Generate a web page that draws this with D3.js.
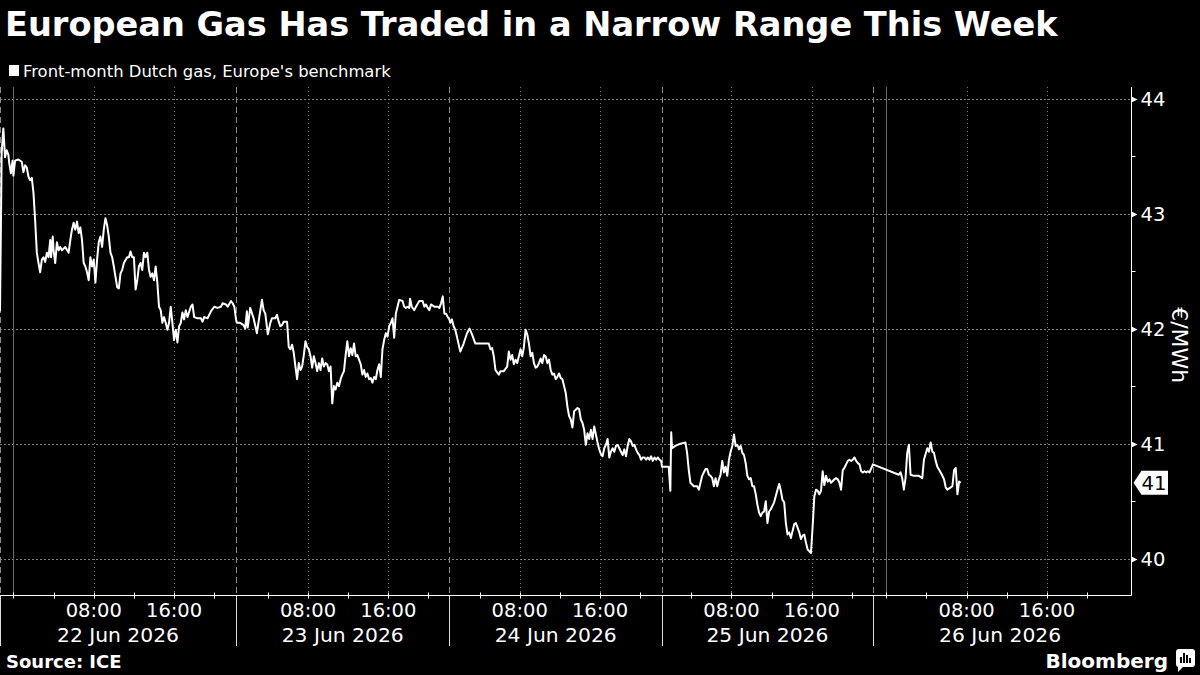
<!DOCTYPE html>
<html>
<head>
<meta charset="utf-8">
<script src="https://cdn.jsdelivr.net/npm/d3@7"></script>
<style>
  body { margin: 0; background: #000; }
  svg { display: block; font-family: 'DejaVu Sans', sans-serif; }
</style>
</head>
<body>
<svg id="chart" width="1200" height="675"></svg>
<script>
const title = 'European Gas Has Traded in a Narrow Range This Week'
const seriesName = "Front-month Dutch gas, Europe's benchmark"
const unit = '€/MWh'
const source = 'Source: ICE'
const yTicks = [40, 41, 42, 43, 44]
const yMinor = [40.5, 41.5, 42.5, 43.5]
const yDomain = [39.68, 44.1]
const dayLabels = ['22 Jun 2026', '23 Jun 2026', '24 Jun 2026', '25 Jun 2026', '26 Jun 2026']
// trading sessions (day-date hh:mm, June 2026); gaps between them are collapsed on the axis
const sessions = [
  ['21 22:40', '22 22:10'],
  ['23 00:50', '23 22:05'],
  ['24 01:00', '24 22:10'],
  ['25 01:05', '25 22:05'],
  ['25 22:40', '27 00:00']
]
const axisEnd = '27 00:25'

const prices = [
  ['21 22:40', 42.15], ['21 22:50', 43.53], ['21 23:00', 43.74], ['21 23:10', 43.49], ['21 23:20', 43.55],
  ['21 23:30', 43.51], ['21 23:35', 43.44], ['21 23:45', 43.35], ['21 23:55', 43.46], ['22 00:00', 43.33],
  ['22 00:10', 43.46], ['22 00:30', 43.47], ['22 00:50', 43.45], ['22 01:00', 43.36], ['22 01:10', 43.42],
  ['22 01:20', 43.40], ['22 01:30', 43.32], ['22 01:40', 43.29], ['22 01:50', 43.31], ['22 02:00', 43.18],
  ['22 02:10', 42.94], ['22 02:20', 42.66], ['22 02:30', 42.57], ['22 02:40', 42.49], ['22 02:50', 42.60],
  ['22 03:00', 42.62], ['22 03:10', 42.58], ['22 03:20', 42.66], ['22 03:30', 42.62], ['22 03:40', 42.77],
  ['22 03:45', 42.62], ['22 03:55', 42.80], ['22 04:00', 42.68], ['22 04:10', 42.57], ['22 04:20', 42.75],
  ['22 04:30', 42.68], ['22 04:40', 42.71], ['22 04:50', 42.68], ['22 05:10', 42.71], ['22 05:30', 42.66],
  ['22 05:40', 42.77], ['22 05:50', 42.86], ['22 06:00', 42.92], ['22 06:10', 42.86], ['22 06:20', 42.93],
  ['22 06:30', 42.83], ['22 06:40', 42.88], ['22 06:50', 42.77], ['22 07:00', 42.57], ['22 07:10', 42.54],
  ['22 07:20', 42.49], ['22 07:30', 42.42], ['22 07:40', 42.62], ['22 07:50', 42.54], ['22 08:00', 42.60],
  ['22 08:10', 42.40], ['22 08:20', 42.60], ['22 08:30', 42.75], ['22 08:40', 42.80], ['22 08:50', 42.71],
  ['22 09:00', 42.86], ['22 09:10', 42.96], ['22 09:20', 42.90], ['22 09:30', 42.80], ['22 09:40', 42.66],
  ['22 09:50', 42.62], ['22 10:00', 42.54], ['22 10:10', 42.45], ['22 10:20', 42.36], ['22 10:30', 42.35],
  ['22 10:40', 42.48], ['22 10:50', 42.51], ['22 11:00', 42.57], ['22 11:20', 42.62], ['22 11:30', 42.62],
  ['22 11:40', 42.67], ['22 11:50', 42.62], ['22 12:00', 42.62], ['22 12:10', 42.34], ['22 12:20', 42.42],
  ['22 12:30', 42.54], ['22 12:40', 42.57], ['22 12:50', 42.51], ['22 13:00', 42.66], ['22 13:10', 42.62],
  ['22 13:20', 42.66], ['22 13:30', 42.51], ['22 13:40', 42.45], ['22 13:50', 42.48], ['22 14:00', 42.42],
  ['22 14:10', 42.54], ['22 14:20', 42.40], ['22 14:30', 42.19], ['22 14:40', 42.16], ['22 14:50', 42.05],
  ['22 15:00', 42.10], ['22 15:10', 42.05], ['22 15:20', 41.99], ['22 15:30', 42.05], ['22 15:40', 42.19],
  ['22 15:50', 42.05], ['22 16:00', 41.90], ['22 16:10', 41.99], ['22 16:20', 41.88], ['22 16:30', 42.02],
  ['22 16:40', 42.05], ['22 16:50', 42.14], ['22 17:00', 42.08], ['22 17:10', 42.16], ['22 17:20', 42.10],
  ['22 17:40', 42.19], ['22 17:50', 42.21], ['22 18:00', 42.10], ['22 18:20', 42.09], ['22 18:40', 42.09],
  ['22 18:50', 42.06], ['22 19:00', 42.10], ['22 19:20', 42.09], ['22 19:40', 42.15], ['22 20:00', 42.19],
  ['22 20:20', 42.18], ['22 20:40', 42.19], ['22 20:50', 42.22], ['22 21:10', 42.21], ['22 21:20', 42.19],
  ['22 21:40', 42.24], ['22 21:50', 42.22], ['22 22:00', 42.19], ['22 22:10', 42.08],
  ['23 00:55', 42.05], ['23 01:15', 42.05], ['23 01:35', 42.03], ['23 01:45', 42.00], ['23 01:55', 42.15],
  ['23 02:00', 42.01], ['23 02:15', 42.18], ['23 02:35', 42.09], ['23 02:55', 41.96], ['23 03:05', 42.06],
  ['23 03:25', 42.25], ['23 03:35', 42.16], ['23 03:45', 42.13], ['23 04:00', 41.95], ['23 04:15', 42.05],
  ['23 04:25', 42.09], ['23 04:45', 42.09], ['23 04:55', 42.12], ['23 05:05', 42.06], ['23 05:15', 42.02],
  ['23 05:25', 42.03], ['23 05:35', 42.06], ['23 05:55', 42.06], ['23 06:05', 41.84], ['23 06:15', 41.82],
  ['23 06:25', 41.86], ['23 06:35', 41.79], ['23 06:45', 41.67], ['23 06:55', 41.56], ['23 07:05', 41.70],
  ['23 07:15', 41.64], ['23 07:25', 41.67], ['23 07:35', 41.77], ['23 07:45', 41.89], ['23 07:55', 41.84],
  ['23 08:05', 41.82], ['23 08:15', 41.76], ['23 08:25', 41.66], ['23 08:35', 41.76], ['23 08:45', 41.70],
  ['23 08:55', 41.63], ['23 09:05', 41.70], ['23 09:15', 41.64], ['23 09:25', 41.74], ['23 09:35', 41.67],
  ['23 09:45', 41.70], ['23 09:55', 41.69], ['23 10:05', 41.63], ['23 10:15', 41.67], ['23 10:25', 41.35],
  ['23 10:35', 41.50], ['23 10:45', 41.47], ['23 10:55', 41.53], ['23 11:05', 41.50], ['23 11:15', 41.56],
  ['23 11:25', 41.60], ['23 11:35', 41.63], ['23 11:45', 41.77], ['23 11:55', 41.89], ['23 12:05', 41.76],
  ['23 12:15', 41.83], ['23 12:25', 41.77], ['23 12:35', 41.87], ['23 12:45', 41.76], ['23 12:55', 41.77],
  ['23 13:05', 41.73], ['23 13:15', 41.69], ['23 13:25', 41.60], ['23 13:35', 41.64], ['23 13:45', 41.58],
  ['23 13:55', 41.61], ['23 14:05', 41.56], ['23 14:15', 41.57], ['23 14:25', 41.53], ['23 14:35', 41.58],
  ['23 14:45', 41.56], ['23 14:55', 41.64], ['23 15:05', 41.69], ['23 15:15', 41.58], ['23 15:25', 41.82],
  ['23 15:35', 41.90], ['23 15:45', 41.96], ['23 15:55', 41.93], ['23 16:05', 42.02], ['23 16:15', 42.05],
  ['23 16:25', 42.09], ['23 16:35', 41.92], ['23 16:45', 42.13], ['23 16:55', 42.19], ['23 17:05', 42.25],
  ['23 17:25', 42.24], ['23 17:35', 42.19], ['23 17:45', 42.18], ['23 17:55', 42.19], ['23 18:05', 42.18],
  ['23 18:10', 42.26], ['23 18:20', 42.19], ['23 18:35', 42.16], ['23 18:45', 42.19], ['23 19:05', 42.24],
  ['23 19:25', 42.24], ['23 19:35', 42.19], ['23 19:45', 42.21], ['23 19:55', 42.18], ['23 20:05', 42.16],
  ['23 20:15', 42.21], ['23 20:35', 42.19], ['23 20:55', 42.19], ['23 21:05', 42.18], ['23 21:15', 42.22],
  ['23 21:25', 42.28], ['23 21:35', 42.13], ['23 21:45', 42.13], ['23 21:55', 42.10], ['23 22:05', 42.08],
  ['24 01:05', 42.05], ['24 01:15', 42.08], ['24 01:25', 42.02], ['24 01:35', 41.99], ['24 01:45', 41.93],
  ['24 02:05', 41.80], ['24 02:25', 41.87], ['24 02:45', 41.96], ['24 03:00', 42.00], ['24 03:15', 41.95],
  ['24 03:35', 41.87], ['24 04:05', 41.87], ['24 04:35', 41.87], ['24 04:55', 41.87], ['24 05:05', 41.82],
  ['24 05:15', 41.83], ['24 05:25', 41.76], ['24 05:35', 41.64], ['24 05:55', 41.60], ['24 06:05', 41.63],
  ['24 06:25', 41.63], ['24 06:45', 41.67], ['24 06:55', 41.80], ['24 07:05', 41.73], ['24 07:15', 41.77],
  ['24 07:25', 41.69], ['24 07:35', 41.73], ['24 07:45', 41.70], ['24 07:55', 41.76], ['24 08:05', 41.82],
  ['24 08:15', 41.76], ['24 08:25', 41.84], ['24 08:35', 41.99], ['24 08:45', 41.95], ['24 08:55', 41.87],
  ['24 09:05', 41.76], ['24 09:15', 41.79], ['24 09:25', 41.70], ['24 09:35', 41.66], ['24 09:45', 41.67],
  ['24 09:55', 41.70], ['24 10:05', 41.74], ['24 10:15', 41.70], ['24 10:25', 41.77], ['24 10:35', 41.76],
  ['24 10:45', 41.70], ['24 10:55', 41.73], ['24 11:05', 41.64], ['24 11:15', 41.60], ['24 11:25', 41.61],
  ['24 11:35', 41.56], ['24 11:45', 41.58], ['24 11:55', 41.61], ['24 12:05', 41.57], ['24 12:15', 41.56],
  ['24 12:25', 41.50], ['24 12:35', 41.44], ['24 12:45', 41.32], ['24 12:55', 41.24], ['24 13:05', 41.21],
  ['24 13:15', 41.14], ['24 13:25', 41.28], ['24 13:45', 41.31], ['24 13:55', 41.30], ['24 14:05', 41.21],
  ['24 14:15', 41.18], ['24 14:25', 41.12], ['24 14:35', 40.99], ['24 14:45', 41.09], ['24 14:55', 41.04],
  ['24 15:05', 41.12], ['24 15:15', 41.04], ['24 15:25', 41.15], ['24 15:35', 41.08], ['24 15:45', 41.01],
  ['24 15:55', 40.95], ['24 16:05', 40.91], ['24 16:15', 40.89], ['24 16:25', 40.96], ['24 16:35', 40.99],
  ['24 16:45', 41.04], ['24 16:55', 40.88], ['24 17:05', 40.93], ['24 17:15', 40.96], ['24 17:25', 40.93],
  ['24 17:35', 40.98], ['24 17:45', 40.99], ['24 17:55', 40.96], ['24 18:05', 40.93], ['24 18:15', 40.90],
  ['24 18:25', 40.95], ['24 18:35', 40.89], ['24 18:45', 40.98], ['24 18:55', 41.04], ['24 19:05', 41.02],
  ['24 19:15', 40.98], ['24 19:25', 40.99], ['24 19:35', 40.95], ['24 19:45', 40.92], ['24 19:55', 40.90],
  ['24 20:05', 40.86], ['24 20:15', 40.88], ['24 20:25', 40.88], ['24 20:35', 40.86], ['24 20:45', 40.88],
  ['24 20:55', 40.86], ['24 21:05', 40.89], ['24 21:15', 40.85], ['24 21:25', 40.88], ['24 21:35', 40.86],
  ['24 21:45', 40.88], ['24 21:55', 40.86], ['24 22:05', 40.85],
  ['25 01:05', 40.80], ['25 01:45', 40.80], ['25 01:55', 40.59], ['25 02:00', 41.10], ['25 02:05', 40.96],
  ['25 02:25', 40.98], ['25 02:55', 41.00], ['25 03:25', 41.01], ['25 03:35', 40.92], ['25 03:45', 40.77],
  ['25 03:55', 40.66], ['25 04:15', 40.63], ['25 04:35', 40.63], ['25 04:45', 40.60], ['25 04:55', 40.66],
  ['25 05:05', 40.72], ['25 05:25', 40.78], ['25 05:35', 40.78], ['25 05:45', 40.73], ['25 05:55', 40.72],
  ['25 06:05', 40.70], ['25 06:15', 40.63], ['25 06:25', 40.70], ['25 06:35', 40.63], ['25 06:45', 40.69],
  ['25 06:55', 40.73], ['25 07:05', 40.85], ['25 07:15', 40.75], ['25 07:25', 40.80], ['25 07:35', 40.72],
  ['25 07:45', 40.86], ['25 07:55', 40.93], ['25 08:05', 40.98], ['25 08:15', 41.08], ['25 08:25', 40.98],
  ['25 08:35', 40.99], ['25 08:45', 40.95], ['25 08:55', 40.98], ['25 09:05', 40.92], ['25 09:15', 40.90],
  ['25 09:25', 40.83], ['25 09:35', 40.72], ['25 09:45', 40.69], ['25 09:55', 40.70], ['25 10:05', 40.63],
  ['25 10:15', 40.63], ['25 10:25', 40.56], ['25 10:35', 40.47], ['25 10:45', 40.40], ['25 10:55', 40.37],
  ['25 11:05', 40.40], ['25 11:15', 40.41], ['25 11:25', 40.50], ['25 11:35', 40.31], ['25 11:45', 40.41],
  ['25 11:55', 40.43], ['25 12:15', 40.49], ['25 12:35', 40.60], ['25 12:45', 40.65], ['25 12:55', 40.59],
  ['25 13:05', 40.51], ['25 13:15', 40.49], ['25 13:25', 40.31], ['25 13:35', 40.21], ['25 13:45', 40.23],
  ['25 13:55', 40.18], ['25 14:05', 40.24], ['25 14:15', 40.30], ['25 14:25', 40.31], ['25 14:35', 40.27],
  ['25 14:45', 40.23], ['25 14:55', 40.17], ['25 15:05', 40.20], ['25 15:15', 40.21], ['25 15:25', 40.14],
  ['25 15:35', 40.08], ['25 15:55', 40.05], ['25 16:05', 40.28], ['25 16:15', 40.54], ['25 16:25', 40.60],
  ['25 16:35', 40.59], ['25 16:45', 40.56], ['25 16:55', 40.59], ['25 17:05', 40.76], ['25 17:15', 40.64],
  ['25 17:25', 40.72], ['25 17:35', 40.67], ['25 17:45', 40.69], ['25 17:55', 40.66], ['25 18:15', 40.69],
  ['25 18:25', 40.70], ['25 18:35', 40.69], ['25 18:45', 40.66], ['25 18:55', 40.60], ['25 19:05', 40.77],
  ['25 19:15', 40.79], ['25 19:25', 40.82], ['25 19:35', 40.85], ['25 19:45', 40.86], ['25 19:55', 40.85],
  ['25 20:05', 40.86], ['25 20:15', 40.88], ['25 20:25', 40.85], ['25 20:35', 40.83], ['25 20:45', 40.82],
  ['25 20:55', 40.76], ['25 21:05', 40.75], ['25 21:15', 40.76], ['25 21:25', 40.75], ['25 21:35', 40.76],
  ['25 21:45', 40.75], ['25 22:05', 40.82],
  ['26 01:15', 40.73], ['26 01:25', 40.75], ['26 01:35', 40.70], ['26 01:45', 40.60], ['26 01:55', 40.70],
  ['26 02:05', 40.92], ['26 02:15', 40.99], ['26 02:25', 40.73], ['26 02:45', 40.72], ['26 03:15', 40.72],
  ['26 03:35', 40.70], ['26 03:45', 40.86], ['26 04:05', 40.96], ['26 04:15', 40.93], ['26 04:25', 41.01],
  ['26 04:35', 40.93], ['26 04:45', 40.92], ['26 04:55', 40.85], ['26 05:05', 40.80], ['26 05:25', 40.75],
  ['26 05:45', 40.69], ['26 05:55', 40.62], ['26 06:05', 40.60], ['26 06:25', 40.62], ['26 06:35', 40.63],
  ['26 06:45', 40.77], ['26 06:55', 40.79], ['26 07:05', 40.56], ['26 07:15', 40.67], ['26 07:25', 40.66]
]

const width = 1200
const plot = { left: 0, right: 1131.5, top: 87, bottom: 595.5 }

const parse = d3.timeParse('%Y-%m-%d %H:%M')
const t = (s) => parse('2026-06-' + s)
const data = prices.map(([s, v]) => ({ date: t(s), value: v }))

// polylinear time scale: each session keeps its length, the gaps shrink to zero
const sess = sessions.map(([a, b], i) => ({
  start: t(a),
  end: t(b),
  axisEnd: i === sessions.length - 1 ? t(axisEnd) : t(b),
  label: dayLabels[i]
}))
const total = d3.sum(sess, (s) => s.axisEnd - s.start)
const domain = []
const range = []
let acc = 0
sess.forEach((s) => {
  domain.push(s.start, s.axisEnd)
  range.push(plot.left + (acc / total) * (plot.right - plot.left))
  acc += s.axisEnd - s.start
  range.push(plot.left + (acc / total) * (plot.right - plot.left))
})
const x = d3.scaleTime().domain(domain).range(range)
const y = d3.scaleLinear().domain(yDomain).range([plot.bottom, plot.top])

const svg = d3.select('#chart')
svg.append('rect').attr('width', width).attr('height', 675).attr('fill', '#000')

// title and legend
svg.append('text')
  .attr('x', 5).attr('y', 36)
  .attr('fill', '#fff')
  .attr('font-size', 33.6)
  .attr('font-weight', 'bold')
  .text(title)

svg.append('rect').attr('x', 9).attr('y', 65).attr('width', 10).attr('height', 11).attr('fill', '#fff')
svg.append('text')
  .attr('x', 23).attr('y', 77)
  .attr('fill', '#fff')
  .attr('font-size', 16.4)
  .text(seriesName)

// hour ticks inside each session
const hourTicks = []
sess.forEach((s) => {
  d3.timeHour.every(4).range(s.start, s.end).forEach((d) => hourTicks.push(d))
})

const grid = svg.append('g').attr('class', 'grid')

grid.selectAll('line.h')
  .data(yTicks)
  .join('line')
  .attr('class', 'h')
  .attr('x1', plot.left).attr('x2', plot.right)
  .attr('y1', (d) => Math.round(y(d)) + 0.5).attr('y2', (d) => Math.round(y(d)) + 0.5)
  .attr('stroke', '#808080')
  .attr('stroke-dasharray', '2,2')

grid.selectAll('line.v')
  .data(hourTicks.filter((d) => d.getHours() % 8 === 0))
  .join('line')
  .attr('class', 'v')
  .attr('x1', (d) => Math.round(x(d)) + 0.5).attr('x2', (d) => Math.round(x(d)) + 0.5)
  .attr('y1', plot.top).attr('y2', plot.bottom)
  .attr('stroke', (d) => (d.getHours() === 0 ? '#6a6a6a' : '#777'))
  .attr('stroke-dasharray', (d) => (d.getHours() === 0 ? null : '1,3'))

grid.selectAll('line.day')
  .data(sess)
  .join('line')
  .attr('class', 'day')
  .attr('x1', (d) => Math.round(x(d.start)) + 0.5).attr('x2', (d) => Math.round(x(d.start)) + 0.5)
  .attr('y1', plot.top).attr('y2', plot.bottom)
  .attr('stroke', '#888')
  .attr('stroke-dasharray', '6,4')

// price line
const line = d3.line()
  .x((d) => x(d.date))
  .y((d) => y(d.value))

svg.append('path')
  .datum(data)
  .attr('d', line)
  .attr('fill', 'none')
  .attr('stroke', '#fff')
  .attr('stroke-width', 2)
  .attr('stroke-linejoin', 'round')

// x axis
const xAxis = svg.append('g').attr('class', 'x-axis')
xAxis.append('line')
  .attr('x1', plot.left).attr('x2', plot.right)
  .attr('y1', plot.bottom).attr('y2', plot.bottom)
  .attr('stroke', '#fff')

xAxis.selectAll('line.tick')
  .data(hourTicks)
  .join('line')
  .attr('class', 'tick')
  .attr('x1', (d) => Math.round(x(d)) + 0.5).attr('x2', (d) => Math.round(x(d)) + 0.5)
  .attr('y1', plot.bottom - 3).attr('y2', plot.bottom + 3)
  .attr('stroke', '#fff')

xAxis.selectAll('line.day')
  .data(sess)
  .join('line')
  .attr('class', 'day')
  .attr('x1', (d) => Math.round(x(d.start)) + 0.5).attr('x2', (d) => Math.round(x(d.start)) + 0.5)
  .attr('y1', plot.bottom).attr('y2', 646)
  .attr('stroke', '#ddd')

const fmtHour = d3.timeFormat('%H:%M')
xAxis.selectAll('text.hour')
  .data(hourTicks.filter((d) => d.getHours() === 8 || d.getHours() === 16))
  .join('text')
  .attr('class', 'hour')
  .attr('x', (d) => x(d))
  .attr('y', 617)
  .attr('text-anchor', 'middle')
  .attr('fill', '#fff')
  .attr('font-size', 19.5)
  .text((d) => fmtHour(d))

xAxis.selectAll('text.day')
  .data(sess)
  .join('text')
  .attr('class', 'day')
  .attr('x', (d) => (x(d.start) + x(d.end)) / 2)
  .attr('y', 642)
  .attr('text-anchor', 'middle')
  .attr('fill', '#fff')
  .attr('font-size', 20.3)
  .text((d) => d.label)

// y axis on the right
const yAxis = svg.append('g').attr('class', 'y-axis')
yAxis.append('line')
  .attr('x1', plot.right).attr('x2', plot.right)
  .attr('y1', plot.top).attr('y2', plot.bottom)
  .attr('stroke', '#fff')

yAxis.selectAll('line.minor')
  .data(yMinor)
  .join('line')
  .attr('class', 'minor')
  .attr('x1', plot.right).attr('x2', plot.right + 4)
  .attr('y1', (d) => Math.round(y(d)) + 0.5).attr('y2', (d) => Math.round(y(d)) + 0.5)
  .attr('stroke', '#fff')

yAxis.selectAll('path.major')
  .data(yTicks)
  .join('path')
  .attr('class', 'major')
  .attr('d', (d) => {
    const yy = Math.round(y(d)) + 0.5
    return `M${plot.right},${yy - 3}L${plot.right + 6},${yy}L${plot.right},${yy + 3}Z`
  })
  .attr('fill', '#fff')

yAxis.selectAll('text.label')
  .data(yTicks)
  .join('text')
  .attr('class', 'label')
  .attr('x', plot.right + 9)
  .attr('y', (d) => y(d) + 7)
  .attr('fill', '#fff')
  .attr('font-size', 19.5)
  .text((d) => d)

svg.append('text')
  .attr('transform', `translate(1172,${(plot.top + plot.bottom) / 2 + 4}) rotate(90)`)
  .attr('text-anchor', 'middle')
  .attr('fill', '#fff')
  .attr('font-size', 22)
  .text(unit)

// last value tag
const last = data[data.length - 1]
const ly = y(last.value)
svg.append('path')
  .attr('d', `M${plot.right + 2},${ly}L${plot.right + 10},${ly - 12}L1168,${ly - 12}L1168,${ly + 12}L${plot.right + 10},${ly + 12}Z`)
  .attr('fill', '#fff')
svg.append('text')
  .attr('x', 1154)
  .attr('y', ly + 7)
  .attr('text-anchor', 'middle')
  .attr('fill', '#000')
  .attr('font-size', 19.5)
  .text(d3.format('.0f')(last.value))

// footer
svg.append('text')
  .attr('x', 6).attr('y', 668)
  .attr('fill', '#fff')
  .attr('font-size', 18)
  .attr('font-weight', 'bold')
  .text(source)

svg.append('text')
  .attr('x', 1168).attr('y', 668)
  .attr('text-anchor', 'end')
  .attr('fill', '#fff')
  .attr('font-size', 20)
  .attr('font-weight', 'bold')
  .text('Bloomberg')

const logo = svg.append('g').attr('transform', 'translate(1176,649)')
logo.append('rect').attr('width', 19).attr('height', 18).attr('rx', 3).attr('fill', '#fff')
logo.append('path').attr('d', 'M2,16L2,23L8,17Z').attr('fill', '#fff')
logo.selectAll('rect.bar')
  .data([6, 10, 8, 5])
  .join('rect')
  .attr('class', 'bar')
  .attr('x', (d, i) => 4 + i * 3)
  .attr('y', (d) => 14 - d)
  .attr('width', 2)
  .attr('height', (d) => d)
  .attr('fill', '#000')
</script>
</body>
</html>
